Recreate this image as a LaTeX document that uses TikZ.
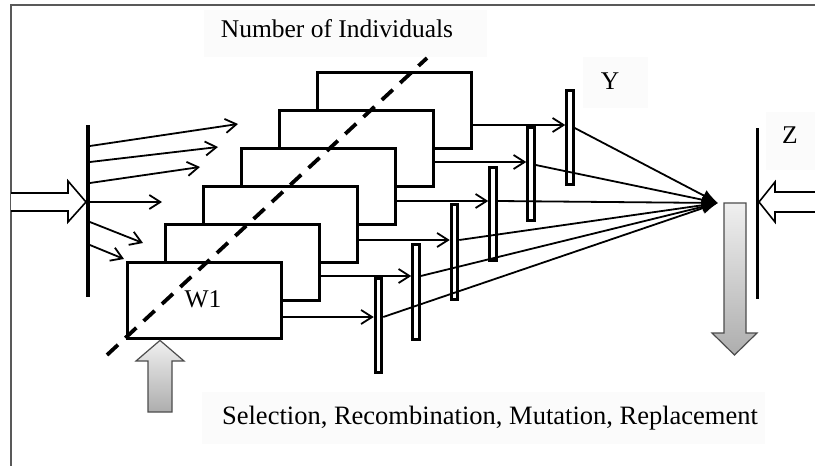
\documentclass[tikz,border=0pt]{standalone}
\usepackage{fontspec}
\setmainfont{Liberation Serif}
\usetikzlibrary{arrows.meta,calc}
\begin{document}
\begin{tikzpicture}[x=1pt,y=-1pt,
  win/.style={draw,line width=3.4pt,fill=white,minimum width=154pt,minimum height=76pt,inner sep=0pt,anchor=north west},
  barbox/.style={draw,line width=3pt,fill=white,minimum width=6.5pt,inner sep=0pt,anchor=north},
  solidbar/.style={fill=black,minimum width=3.4pt,inner sep=0pt,anchor=north},
  thinarrow/.style={line width=1.8pt,-{Straight Barb[length=11pt,width=14pt,line width=1.8pt]}},
  tofocus/.style={line width=1.8pt,-{Latex[length=16pt,width=12pt]}},
  hollow/.style={draw,line width=1.6pt,fill=white,line join=miter},
  grayarrow/.style={draw=black!70,line width=1.2pt,top color=black!6,bottom color=black!32},
  lbl/.style={font=\fontsize{25.5}{30}\selectfont,inner sep=0pt,anchor=base},
  lblbox/.style={fill=black!1.5}
]
\useasboundingbox (0,0) rectangle (815,466);

% outer frame
\draw[line width=2pt,black!65] (11,466) -- (11,5) -- (815,5);

% faint label boxes
\fill[lblbox] (204,10) rectangle (487,57);
\fill[lblbox] (583,57) rectangle (648,108);
\fill[lblbox] (766,112) rectangle (815,170);
\fill[lblbox] (202,392) rectangle (765,444);

% stacked windows, back to front
\node[win] (w6) at (316,71) {};
\node[win] (w5) at (278,109) {};
\node[win] (w4) at (240,147) {};
\node[win] (w3) at (202,185) {};
\node[win] (w2) at (164,223) {};
\node[win] (w1) at (126,261) {};

% dashed diagonal across the stack
\coordinate (d1) at (107,355);
\coordinate (d2) at (427,58);
\draw[line width=3.8pt,dash pattern=on 15pt off 10pt] (d1) -- (d2);

% left input bar and its fan of arrows
\node[solidbar,minimum height=172pt] (lbar) at (88,125) {};
\coordinate (e1) at (238,124);
\coordinate (e2) at (218,147);
\coordinate (e3) at (200,167);
\coordinate (e4) at (162,202);
\coordinate (e5) at (143,243);
\coordinate (e6) at (124,259);
\draw[thinarrow] ($(lbar.north east)+(0,21)$) -- (e1);
\draw[thinarrow] ($(lbar.north east)+(0,37)$) -- (e2);
\draw[thinarrow] ($(lbar.north east)+(0,58)$) -- (e3);
\draw[thinarrow] ($(lbar.north east)+(0,77)$) -- (e4);
\draw[thinarrow] ($(lbar.north east)+(0,97)$) -- (e5);
\draw[thinarrow] ($(lbar.north east)+(0,120)$) -- (e6);

% hollow input arrow from the left
\coordinate (inL) at (86,202);
\draw[hollow] (11,193) -- (68,193) -- (68,181) -- (inL) -- (68,222) -- (68,211) -- (11,211);

% output bars
\node[barbox,minimum height=94pt] (bA) at (378.5,277) {};
\node[barbox,minimum height=95pt] (bB) at (416,243) {};
\node[barbox,minimum height=95pt] (bC) at (454.5,203) {};
\node[barbox,minimum height=93pt] (bD) at (493,166) {};
\node[barbox,minimum height=93pt] (bE) at (531,126) {};
\node[barbox,minimum height=94pt] (bF) at (570,89) {};

\coordinate (yA) at (0,317);
\coordinate (yB) at (0,276);
\coordinate (yC) at (0,240);
\coordinate (yD) at (0,201);
\coordinate (yE) at (0,162);
\coordinate (yF) at (0,125);

\draw[thinarrow] (w1.east |- yA) -- (bA.west |- yA);
\draw[thinarrow] (w2.east |- yB) -- (bB.west |- yB);
\draw[thinarrow] (w3.east |- yC) -- (bC.west |- yC);
\draw[thinarrow] (w4.east |- yD) -- (bD.west |- yD);
\draw[thinarrow] (w5.east |- yE) -- (bE.west |- yE);
\draw[thinarrow] (w6.east |- yF) -- (bF.west |- yF);

% converging lines
\coordinate (focal) at (718,203);
\draw[tofocus] (bA.east |- yA) -- (focal);
\draw[tofocus] (bB.east |- yB) -- (focal);
\draw[tofocus] (bC.east |- yC) -- (focal);
\draw[tofocus] (bD.east |- yD) -- (focal);
\draw[tofocus] ($(bE.east |- yE)+(0,3)$) -- (focal);
\draw[tofocus] ($(bF.east |- yF)+(0,3)$) -- (focal);

% right bar with hollow arrow
\node[solidbar,minimum height=171pt] (zbar) at (757.5,128) {};
\coordinate (inR) at (759,202);
\draw[hollow] (816,192) -- (775,192) -- (775,182) -- (inR) -- (775,222) -- (775,212) -- (816,212);

% gray down arrow
\coordinate (downtip) at (734.5,355);
\path[grayarrow] (724,203) -- (746,203) -- (746,333) -- (757,333) -- (downtip) -- (712,333) -- (724,333) -- cycle;

% gray up arrow into W1
\coordinate (uptip) at (w1.south west -| 160,0);
\path[grayarrow] (148,412) -- (148,361) -- (136,361) -- (uptip) -- (184,361) -- (172,361) -- (172,412) -- cycle;

% labels
\node[lbl] (tnum) at (337,37) {Number of Individuals};
\node[lbl] (ty) at (610,89) {Y};
\node[lbl] (tz) at (790,143) {Z};
\node[lbl] (tw) at (203,307) {W1};
\node[lbl,font=\fontsize{26.5}{30}\selectfont] (tsel) at (490,424) {Selection, Recombination, Mutation, Replacement};
\end{tikzpicture}
\end{document}
